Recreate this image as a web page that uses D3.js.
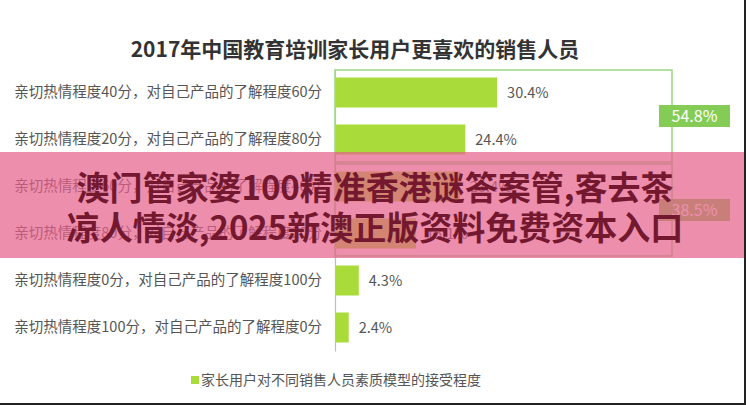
<!DOCTYPE html>
<html><head><meta charset="utf-8">
<script src="https://cdn.jsdelivr.net/npm/d3@7"></script>
<style>
html,body{margin:0;padding:0;background:#fff;}
svg{display:block;font-family:"Noto Sans CJK SC","Noto Sans",sans-serif;}
</style></head>
<body>
<script>
// ---- data ----
const title = "2017年中国教育培训家长用户更喜欢的销售人员";
const categories = [
  "亲切热情程度40分，对自己产品的了解程度60分",
  "亲切热情程度20分，对自己产品的了解程度80分",
  "亲切热情程度60分，对自己产品的了解程度40分",
  "亲切热情程度80分，对自己产品的了解程度20分",
  "亲切热情程度0分，对自己产品的了解程度100分",
  "亲切热情程度100分，对自己产品的了解程度0分"
];
const values = [30.4, 24.4, 23.4, 15.1, 4.3, 2.4];
const groupStarts = [0, 2];
const groupEnds = [1, 3];
const groupTotals = [54.8, 38.5];
const legendLabel = "家长用户对不同销售人员素质模型的接受程度";
const bannerLines = [
  "澳门管家婆100精准香港谜答案管,客去茶",
  "凉人情淡,2025新澳正版资料免费资本入口"
];

const W = 746, H = 405;
const svg = d3.select("body").append("svg").attr("width", W).attr("height", H);

const x = d3.scaleLinear().domain([0, 60]).range([336, 654]);
const y = d3.scaleBand().domain(categories).range([69, 351]).padding(0);
const bw = y.bandwidth();
const barH = 30;

// title
svg.append("text").attr("x", 355).attr("y", 50).attr("dy", "0.35em")
  .attr("text-anchor", "middle").attr("font-size", 21).attr("font-weight", 700)
  .attr("fill", "#333").text(title);

// axis line (left)
const yAxis = d3.axisLeft(y).tickSize(0).tickPadding(13).tickFormat(d => d);
const ax = svg.append("g").attr("transform", "translate(335,0)").call(yAxis);
ax.select(".domain").attr("stroke", "#bdbdbd").attr("stroke-width", 1.2);
ax.selectAll("text").attr("font-size", 14.5).attr("fill", "#555")
  .attr("font-family", "\"Noto Sans CJK SC\",sans-serif");

// bars
svg.append("g").selectAll("rect").data(values).join("rect")
  .attr("x", x(0)).attr("y", (d, i) => y(categories[i]) + (bw - barH) / 2)
  .attr("width", d => x(d) - x(0)).attr("height", barH)
  .attr("fill", "#a9dc3a");

// value labels
svg.append("g").selectAll("text").data(values).join("text")
  .attr("x", d => x(d) + 10).attr("y", (d, i) => y(categories[i]) + bw / 2)
  .attr("dy", "0.35em").attr("font-size", 14.5).attr("fill", "#555")
  .text(d => d.toFixed(1) + "%");

// group frames
const gf = svg.append("g");
groupTotals.forEach((t, k) => {
  const y0 = y(categories[groupStarts[k]]) + 1;
  const y1 = y(categories[groupEnds[k]]) + bw - 1;
  gf.append("rect").attr("x", 335).attr("y", y0).attr("width", 672 - 335).attr("height", y1 - y0)
    .attr("fill", "none").attr("stroke", "#a3d98e").attr("stroke-width", 1.6);
  const cy = (y0 + y1) / 2;
  gf.append("rect").attr("x", 659).attr("y", cy - 11).attr("width", 71).attr("height", 22)
    .attr("fill", "#84cc55");
  gf.append("text").attr("x", 694.5).attr("y", cy).attr("dy", "0.36em")
    .attr("text-anchor", "middle").attr("font-size", 16).attr("fill", "#fff")
    .text(t.toFixed(1) + "%");
});

// legend
svg.append("rect").attr("x", 191).attr("y", 376).attr("width", 8).attr("height", 8).attr("fill", "#a9dc3a");
svg.append("text").attr("x", 201).attr("y", 380).attr("dy", "0.35em")
  .attr("font-size", 14).attr("fill", "#555").text(legendLabel);

// overlay banner
svg.append("rect").attr("x", 0).attr("y", 152).attr("width", W).attr("height", 106)
  .attr("fill", "rgb(229,94,138)").attr("fill-opacity", 0.7);
svg.append("g").selectAll("text").data(bannerLines).join("text")
  .attr("x", 375).attr("y", (d, i) => 188 + i * 40).attr("dy", "0.36em")
  .attr("text-anchor", "middle").attr("font-size", 33).attr("font-weight", 700)
  .attr("font-family", "\"Noto Sans CJK SC\",sans-serif")
  .attr("fill", "#74182f").text(d => d);

// image frame edges
svg.append("rect").attr("x", W - 2).attr("y", 0).attr("width", 2).attr("height", H).attr("fill", "#222");
svg.append("rect").attr("x", 0).attr("y", H - 2).attr("width", W).attr("height", 2).attr("fill", "#222");
</script>
</body></html>
